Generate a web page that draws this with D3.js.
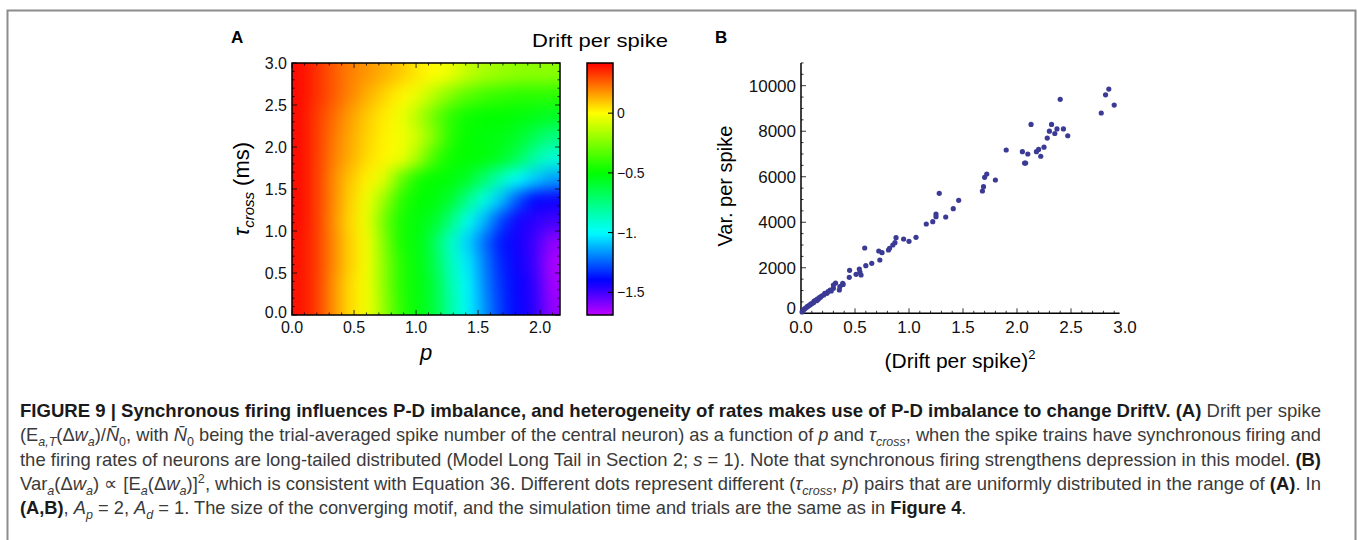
<!DOCTYPE html>
<html>
<head>
<meta charset="utf-8">
<script src="https://cdn.jsdelivr.net/npm/d3@7"></script>
<style>
  body { margin: 0; background: #fff; }
  svg { display: block; }
  text { font-family: "Liberation Sans", Arial, Helvetica, sans-serif; }
</style>
</head>
<body>
<div id="chart"></div>
<script>
// ---- Panel A : drift per spike on a (p, tau_cross) grid ----
const pEdges = [0, 0.135, 0.27, 0.405, 0.54, 0.675, 0.81, 0.945, 1.08, 1.215, 1.35, 1.485, 1.62, 1.755, 1.89, 2.025, 2.16];
const tauEdges = [0, 0.25, 0.5, 0.75, 1.0, 1.25, 1.5, 1.75, 2.0, 2.25, 2.5, 2.75, 3.0];
// one row per tau band, from tau = 0 upwards; one value per p band
const driftGrid = [
  [0.39, 0.32, 0.175, 0.055, -0.02, -0.21, -0.42, -0.52, -0.62, -0.83, -1.01, -1.17, -1.32, -1.41, -1.47, -1.63],
  [0.39, 0.32, 0.175, 0.055, -0.02, -0.23, -0.43, -0.52, -0.62, -0.85, -1.01, -1.19, -1.33, -1.41, -1.48, -1.65],
  [0.39, 0.32, 0.19, 0.07, -0.02, -0.23, -0.43, -0.52, -0.65, -0.875, -1.03, -1.2, -1.35, -1.42, -1.5, -1.66],
  [0.39, 0.32, 0.19, 0.07, -0.02, -0.25, -0.46, -0.52, -0.67, -0.9, -1.07, -1.23, -1.37, -1.43, -1.5, -1.62],
  [0.40, 0.32, 0.18, 0.06, -0.04, -0.28, -0.46, -0.52, -0.58, -0.75, -0.97, -1.12, -1.3, -1.43, -1.47, -1.5],
  [0.40, 0.32, 0.19, 0.07, -0.03, -0.2, -0.42, -0.5, -0.52, -0.6, -0.78, -0.95, -1.1, -1.28, -1.4, -1.42],
  [0.40, 0.32, 0.19, 0.09, 0.02, -0.06, -0.3, -0.46, -0.5, -0.52, -0.58, -0.72, -0.88, -1.0, -1.08, -1.15],
  [0.40, 0.32, 0.21, 0.13, 0.055, 0.015, -0.03, -0.17, -0.375, -0.48, -0.5, -0.52, -0.57, -0.67, -0.83, -0.92],
  [0.40, 0.32, 0.22, 0.14, 0.07, 0.02, -0.02, -0.1, -0.25, -0.43, -0.5, -0.52, -0.54, -0.58, -0.67, -0.75],
  [0.40, 0.32, 0.24, 0.155, 0.085, 0.03, -0.03, -0.15, -0.29, -0.42, -0.48, -0.5, -0.5, -0.52, -0.54, -0.57],
  [0.40, 0.34, 0.27, 0.20, 0.13, 0.07, 0.015, -0.04, -0.15, -0.25, -0.33, -0.375, -0.4, -0.42, -0.42, -0.42],
  [0.40, 0.34, 0.27, 0.21, 0.17, 0.13, 0.085, 0.035, 0, -0.04, -0.12, -0.17, -0.2, -0.22, -0.23, -0.23]
];
const pTicks = [0, 0.5, 1.0, 1.5, 2.0];
const tauTicks = [0, 0.5, 1.0, 1.5, 2.0, 2.5, 3.0];
const barTicks = [0, -0.5, -1, -1.5];
const barTickLabels = ["0", "\u22120.5", "\u22121.", "\u22121.5"];

// ---- Panel B : variance vs squared drift ----
const driftSq = [0.01, 0.02, 0.03, 0.04, 0.052, 0.06, 0.07, 0.083, 0.09, 0.10, 0.115, 0.12, 0.13, 0.145, 0.15, 0.16, 0.17, 0.18, 0.19, 0.21,
  0.22, 0.24, 0.25, 0.27, 0.28, 0.30, 0.30, 0.32, 0.355, 0.36, 0.386, 0.39, 0.447, 0.45, 0.51, 0.54, 0.546, 0.556, 0.59, 0.60,
  0.655, 0.72, 0.73, 0.75, 0.81, 0.82, 0.85, 0.87, 0.88, 0.95, 1.0, 1.065, 1.16, 1.22, 1.25, 1.25, 1.28, 1.34, 1.41, 1.46,
  1.68, 1.69, 1.70, 1.72, 1.80, 1.90, 2.05, 2.07, 2.08, 2.10, 2.13, 2.18, 2.20, 2.22, 2.25, 2.28, 2.30, 2.32, 2.35, 2.37,
  2.40, 2.43, 2.47, 2.78, 2.82, 2.85, 2.90];
const varSpike = [60, 145, 180, 220, 264, 300, 330, 365, 400, 430, 466, 520, 560, 554, 620, 615, 690, 703, 760, 804,
  880, 879, 950, 1024, 980, 1098, 1243, 1330, 1024, 1169, 1318, 1270, 1582, 1889, 1713, 1946, 1815, 1683, 2869, 2092,
  2197, 2737, 2342, 2663, 2781, 2856, 3001, 3103, 3322, 3265, 3164, 3339, 3924, 4025, 4245, 4363, 5273, 4231, 4596, 4965,
  5374, 5563, 5976, 6121, 5857, 7175, 7100, 6600, 6600, 7000, 8300, 7100, 7200, 6900, 7300, 7700, 8000, 8300, 7900, 8100,
  9400, 8100, 7800, 8800, 9600, 9850, 9150];
const xTicksB = [0, 0.5, 1.0, 1.5, 2.0, 2.5, 3.0];
const yTicksB = [0, 2000, 4000, 6000, 8000, 10000];

const W = 1358, H = 540;
const svg = d3.select("#chart").append("svg").attr("width", W).attr("height", H);
const defs = svg.append("defs");

// page frame
svg.append("path")
  .attr("d", "M7.5,540V10.5H1355.5V540")
  .attr("fill", "none").attr("stroke", "#8c8c8c").attr("stroke-width", 2);

// colour map: rainbow by hue
const hue = d3.scaleLinear().domain([0.42, 0, -0.5, -1, -1.5, -1.69]).range([0, 60, 120, 180, 255, 285]);
const colorOf = v => d3.hsl(hue(v), 1, 0.5).toString();

// ================= Panel A =================
const xA = d3.scaleLinear().domain([0, 2.16]).range([292, 560]);
const yA = d3.scaleLinear().domain([0, 3]).range([315, 63]);

defs.append("clipPath").attr("id", "clipA").append("rect")
  .attr("x", xA(0)).attr("y", yA(3))
  .attr("width", xA(2.16) - xA(0)).attr("height", yA(0) - yA(3));
const blur = defs.append("filter").attr("id", "soft")
  .attr("x", "-15%").attr("y", "-15%").attr("width", "130%").attr("height", "130%")
  .attr("color-interpolation-filters", "sRGB");
blur.append("feGaussianBlur").attr("stdDeviation", 7.5);

const cells = [];
driftGrid.forEach((row, r) => row.forEach((v, c) => cells.push({
  p0: pEdges[c], p1: pEdges[c + 1], t0: tauEdges[r], t1: tauEdges[r + 1], v,
  first: c === 0, last: c === row.length - 1, bottom: r === 0, top: r === driftGrid.length - 1
})));
const pad = 30;
svg.append("g").attr("clip-path", "url(#clipA)")
  .append("g").attr("filter", "url(#soft)")
  .selectAll("rect").data(cells).join("rect")
  .attr("x", d => xA(d.p0) - (d.first ? pad : 0))
  .attr("y", d => yA(d.t1) - (d.top ? pad : 0))
  .attr("width", d => xA(d.p1) - xA(d.p0) + (d.first ? pad : 0) + (d.last ? pad : 0) + 0.5)
  .attr("height", d => yA(d.t0) - yA(d.t1) + (d.top ? pad : 0) + (d.bottom ? pad : 0) + 0.5)
  .attr("fill", d => colorOf(d.v));

// frame + ticks of panel A
const isMajor = d => Math.abs(d * 2 - Math.round(d * 2)) < 1e-6;
const gA = svg.append("g");
gA.append("rect").attr("x", xA(0)).attr("y", yA(3))
  .attr("width", xA(2.16) - xA(0)).attr("height", yA(0) - yA(3))
  .attr("fill", "none").attr("stroke", "#000").attr("stroke-width", 1.5);
const pMinor = d3.range(0, 2.16, 0.1);
const tMinor = d3.range(0, 3.01, 0.1);
gA.selectAll("line.xt").data(pMinor).join("line")
  .attr("x1", d => xA(d)).attr("x2", d => xA(d))
  .attr("y1", yA(0)).attr("y2", d => yA(0) - (isMajor(d) ? 5 : 2.5))
  .attr("stroke", "#000").attr("stroke-width", 0.8);
gA.selectAll("line.xt2").data(pMinor).join("line")
  .attr("x1", d => xA(d)).attr("x2", d => xA(d))
  .attr("y1", yA(3)).attr("y2", d => yA(3) + (isMajor(d) ? 5 : 2.5))
  .attr("stroke", "#000").attr("stroke-width", 0.8);
gA.selectAll("line.yt").data(tMinor).join("line")
  .attr("y1", d => yA(d)).attr("y2", d => yA(d))
  .attr("x1", xA(0)).attr("x2", d => xA(0) + (isMajor(d) ? 5 : 2.5))
  .attr("stroke", "#000").attr("stroke-width", 0.8);
gA.selectAll("line.yt2").data(tMinor).join("line")
  .attr("y1", d => yA(d)).attr("y2", d => yA(d))
  .attr("x1", xA(2.16)).attr("x2", d => xA(2.16) - (isMajor(d) ? 5 : 2.5))
  .attr("stroke", "#000").attr("stroke-width", 0.8);

gA.selectAll("text.xl").data(pTicks).join("text")
  .attr("x", d => xA(d)).attr("y", yA(0) + 18)
  .attr("text-anchor", "middle").attr("font-size", 16).attr("fill", "#111")
  .text(d => d.toFixed(1));
gA.selectAll("text.yl").data(tauTicks).join("text")
  .attr("x", xA(0) - 5).attr("y", d => yA(d) + (d === 0 ? 3 : 6))
  .attr("text-anchor", "end").attr("font-size", 16).attr("fill", "#111")
  .text(d => d.toFixed(1));

svg.append("text").attr("x", 231).attr("y", 43)
  .attr("font-size", 17).attr("font-weight", "bold").text("A");
svg.append("text").attr("x", (xA(0) + xA(2.16)) / 2).attr("y", 360)
  .attr("text-anchor", "middle").attr("font-size", 22).attr("font-style", "italic").text("p");
const yLabA = svg.append("text")
  .attr("transform", `translate(249,${(yA(0) + yA(3)) / 2}) rotate(-90)`)
  .attr("text-anchor", "middle").attr("font-size", 22);
yLabA.append("tspan").attr("font-style", "italic").text("\u03c4");
yLabA.append("tspan").attr("font-style", "italic").attr("font-size", 15).attr("dy", 5).text("cross");
yLabA.append("tspan").attr("dy", -5).text(" (ms)");

// colour bar
const yC = d3.scaleLinear().domain([-1.69, 0.42]).range([315, 63]);
const grad = defs.append("linearGradient").attr("id", "barGrad")
  .attr("x1", 0).attr("y1", 1).attr("x2", 0).attr("y2", 0);
d3.range(0, 1.0001, 0.02).forEach(t => {
  const v = -1.69 + t * 2.11;
  grad.append("stop").attr("offset", t).attr("stop-color", colorOf(v));
});
svg.append("rect").attr("x", 587).attr("y", yC(0.42))
  .attr("width", 26).attr("height", yC(-1.69) - yC(0.42))
  .attr("fill", "url(#barGrad)").attr("stroke", "#000").attr("stroke-width", 1.5);
svg.selectAll("line.ct").data(barTicks).join("line")
  .attr("x1", 613).attr("x2", 608).attr("y1", d => yC(d)).attr("y2", d => yC(d))
  .attr("stroke", "#000").attr("stroke-width", 1);
svg.selectAll("text.cl").data(barTicks).join("text")
  .attr("x", 617).attr("y", d => yC(d) + 5)
  .attr("font-size", 14).attr("fill", "#111")
  .text((d, i) => barTickLabels[i]);
svg.append("text").attr("x", 532).attr("y", 47)
  .attr("font-size", 19).attr("textLength", 136).attr("lengthAdjust", "spacingAndGlyphs")
  .text("Drift per spike");

// ================= Panel B =================
const xB = d3.scaleLinear().domain([0, 2.95]).range([801, 801 + 2.95 * 108]);
const yB = d3.scaleLinear().domain([0, 11000]).range([313.3, 313.3 - 11000 * 0.02276]);
const gB = svg.append("g");
gB.append("line").attr("x1", xB(0)).attr("x2", xB(0)).attr("y1", yB(0)).attr("y2", yB(11000))
  .attr("stroke", "#000").attr("stroke-width", 1.5);
gB.append("line").attr("x1", xB(0)).attr("x2", xB(2.95)).attr("y1", yB(0)).attr("y2", yB(0))
  .attr("stroke", "#000").attr("stroke-width", 1.5);
gB.selectAll("line.bx").data(d3.range(0, 2.951, 0.1)).join("line")
  .attr("x1", d => xB(d)).attr("x2", d => xB(d))
  .attr("y1", yB(0)).attr("y2", d => yB(0) - (isMajor(d) ? 5 : 2.5))
  .attr("stroke", "#000").attr("stroke-width", 0.8);
gB.selectAll("line.by").data(d3.range(0, 11001, 500)).join("line")
  .attr("y1", d => yB(d)).attr("y2", d => yB(d))
  .attr("x1", xB(0)).attr("x2", d => xB(0) + (d % 2000 === 0 ? 5 : 2.5))
  .attr("stroke", "#000").attr("stroke-width", 0.8);
gB.selectAll("text.bxl").data(xTicksB).join("text")
  .attr("x", d => xB(d)).attr("y", yB(0) + 20)
  .attr("text-anchor", "middle").attr("font-size", 17).attr("fill", "#111")
  .text(d => d.toFixed(1));
gB.selectAll("text.byl").data(yTicksB).join("text")
  .attr("x", xB(0) - 5).attr("y", d => yB(d) + (d === 0 ? 1 : 6))
  .attr("text-anchor", "end").attr("font-size", 17).attr("fill", "#111")
  .text(d => d);

gB.selectAll("circle").data(driftSq).join("circle")
  .attr("cx", d => xB(d)).attr("cy", (d, i) => yB(varSpike[i]))
  .attr("r", 2.6).attr("fill", "#3b3b96");

svg.append("text").attr("x", 715).attr("y", 43)
  .attr("font-size", 17).attr("font-weight", "bold").text("B");
svg.append("text")
  .attr("transform", `translate(732,${(yB(0) + yB(11000)) / 2 - 2}) rotate(-90)`)
  .attr("text-anchor", "middle").attr("font-size", 20).text("Var. per spike");
const xLabB = svg.append("text").attr("x", 960).attr("y", 368)
  .attr("text-anchor", "middle").attr("font-size", 21);
xLabB.append("tspan").text("(Drift per spike)");
xLabB.append("tspan").attr("font-size", 13).attr("dy", -9).text("2");

// ================= Caption =================
// segments: [text, style]  b = bold, i = italic, s = subscript, S = superscript
const captionLines = [
  [["FIGURE 9 | Synchronous firing influences P-D imbalance, and heterogeneity of rates makes use of P-D imbalance to change DriftV. (A)", "b"], [" Drift per spike", ""]],
  [["(E", ""], ["a,T", "is"], ["(\u0394", ""], ["w", "i"], ["a", "is"], [")/", ""], ["N\u0304", "i"], ["0", "s"], [", with ", ""], ["N\u0304", "i"], ["0", "s"],
    [" being the trial-averaged spike number of the central neuron) as a function of ", ""], ["p", "i"], [" and ", ""], ["\u03c4", "i"], ["cross", "is"],
    [", when the spike trains have synchronous firing and", ""]],
  [["the firing rates of neurons are long-tailed distributed (Model Long Tail in Section 2; ", ""], ["s", "i"],
    [" = 1). Note that synchronous firing strengthens depression in this model. ", ""], ["(B)", "b"]],
  [["Var", ""], ["a", "is"], ["(\u0394", ""], ["w", "i"], ["a", "is"], [") \u221d [E", ""], ["a", "is"], ["(\u0394", ""], ["w", "i"], ["a", "is"], [")]", ""], ["2", "S"],
    [", which is consistent with Equation 36. Different dots represent different (", ""], ["\u03c4", "i"], ["cross", "is"], [", ", ""], ["p", "i"],
    [") pairs that are uniformly distributed in the range of ", ""], ["(A)", "b"], [". In", ""]],
  [["(A,B)", "b"], [", ", ""], ["A", "i"], ["p", "is"], [" = 2, ", ""], ["A", "i"], ["d", "is"],
    [" = 1. The size of the converging motif, and the simulation time and trials are the same as in ", ""], ["Figure 4", "b"], [".", ""]]
];
// justified block with slightly condensed glyphs; last line keeps its natural width
const capLeft = 20, capRight = 1321, capTop = 417, capStep = 24.3, squeeze = 0.962;
captionLines.forEach((segs, li) => {
  const g = svg.append("g").attr("transform", `translate(${capLeft},${capTop + li * capStep}) scale(${squeeze},1)`);
  const t = g.append("text").attr("x", 0).attr("y", 0)
    .attr("font-size", 19).attr("fill", "#3a3a3a");
  let shift = 0;
  segs.forEach(([txt, st]) => {
    let target = 0;
    if (st.includes("s")) target = 5;
    if (st.includes("S")) target = -7;
    const ts = t.append("tspan").text(txt);
    if (target !== shift) { ts.attr("dy", target - shift); shift = target; }
    if (st.includes("b")) ts.attr("font-weight", "bold").attr("fill", "#1a1a1a");
    if (st.includes("i")) ts.attr("font-style", "italic");
    if (st.includes("s") || st.includes("S")) ts.attr("font-size", 13);
  });
  if (li < captionLines.length - 1) {
    t.attr("textLength", (capRight - capLeft) / squeeze).attr("lengthAdjust", "spacingAndGlyphs");
  }
});
</script>
</body>
</html>
